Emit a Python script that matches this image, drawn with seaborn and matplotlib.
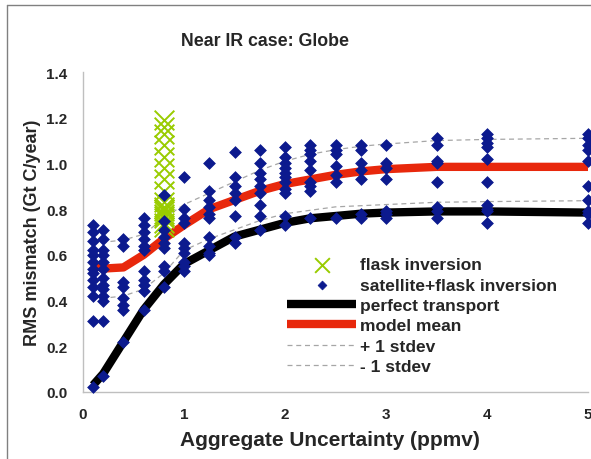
import matplotlib
matplotlib.use("Agg")
import matplotlib.pyplot as plt
from matplotlib.lines import Line2D
import seaborn as sns
import pandas as pd

# ---------------- data ----------------
uncertainty = [0.1, 0.2, 0.4, 0.6, 0.8, 1.0, 1.25, 1.5, 1.75, 2.0,
               2.25, 2.5, 2.75, 3.0, 3.5, 4.0, 5.0]

sat_flask = [
    [0.73, 0.70, 0.66, 0.62, 0.60, 0.57, 0.54, 0.52, 0.49, 0.46, 0.42, 0.31, 0.02],
    [0.71, 0.67, 0.62, 0.60, 0.57, 0.54, 0.50, 0.47, 0.45, 0.42, 0.40, 0.31, 0.07],
    [0.67, 0.64, 0.48, 0.46, 0.41, 0.38, 0.36, 0.22],
    [0.76, 0.73, 0.70, 0.67, 0.64, 0.62, 0.53, 0.49, 0.47, 0.44, 0.36],
    [0.86, 0.75, 0.71, 0.68, 0.65, 0.63, 0.55, 0.53, 0.46],
    [0.94, 0.80, 0.76, 0.74, 0.65, 0.63, 0.61, 0.57, 0.55, 0.53],
    [1.00, 0.88, 0.84, 0.81, 0.78, 0.76, 0.68, 0.64, 0.61, 0.60],
    [1.05, 0.94, 0.90, 0.87, 0.84, 0.77, 0.68, 0.65],
    [1.06, 1.00, 0.96, 0.93, 0.90, 0.87, 0.82, 0.77, 0.71],
    [1.07, 1.03, 1.00, 0.98, 0.96, 0.94, 0.92, 0.89, 0.87, 0.77, 0.73],
    [1.08, 1.06, 1.04, 1.01, 0.97, 0.92, 0.90, 0.88, 0.76],
    [1.08, 1.06, 1.04, 0.99, 0.95, 0.92, 0.76],
    [1.08, 1.06, 1.00, 0.97, 0.93, 0.78, 0.76],
    [1.08, 1.00, 0.98, 0.93, 0.79, 0.78, 0.76],
    [1.11, 1.08, 1.01, 1.00, 0.92, 0.81, 0.79, 0.76],
    [1.13, 1.11, 1.09, 1.07, 1.02, 0.92, 0.82, 0.80, 0.79, 0.74],
    [1.13, 1.11, 1.08, 1.06, 1.01, 0.90, 0.84, 0.79, 0.78, 0.74],
]

flask_x = 0.8
flask_values = [1.19, 1.16, 1.13, 1.08, 1.03, 0.98, 0.93, 0.88, 0.83,
                0.81, 0.80, 0.79, 0.78, 0.77, 0.76, 0.74, 0.72]

perfect_transport = [0.03, 0.08, 0.22, 0.36, 0.47, 0.56, 0.62, 0.68, 0.71, 0.74,
                     0.76, 0.77, 0.78, 0.785, 0.79, 0.79, 0.785]
model_mean = [0.56, 0.54, 0.545, 0.60, 0.67, 0.73, 0.80, 0.84, 0.88, 0.91,
              0.93, 0.95, 0.965, 0.975, 0.985, 0.985, 0.985]
plus_stdev = [0.65, 0.655, 0.665, 0.69, 0.76, 0.82, 0.87, 0.92, 0.97, 1.01,
              1.04, 1.06, 1.075, 1.085, 1.10, 1.105, 1.11]
minus_stdev = [0.41, 0.41, 0.42, 0.45, 0.52, 0.62, 0.67, 0.71, 0.75, 0.78,
               0.795, 0.81, 0.815, 0.82, 0.83, 0.833, 0.837]

x_ticks = [0, 1, 2, 3, 4, 5]
y_ticks = [0.0, 0.2, 0.4, 0.6, 0.8, 1.0, 1.2, 1.4]

title = "Near IR case: Globe"
x_label = "Aggregate Uncertainty (ppmv)"
y_label = "RMS mismatch (Gt C/year)"

# ---------------- tables ----------------
sat_df = pd.DataFrame(
    [(u, v) for u, col in zip(uncertainty, sat_flask) for v in col],
    columns=["unc", "rms"])
flask_df = pd.DataFrame({"unc": [flask_x] * len(flask_values), "rms": flask_values})
lines_df = pd.DataFrame({"unc": uncertainty, "perfect": perfect_transport,
                         "mean": model_mean, "plus": plus_stdev, "minus": minus_stdev})

# ---------------- style ----------------
sns.set_style("white")
plt.rcParams["font.family"] = ["Liberation Sans", "DejaVu Sans"]
plt.rcParams["font.weight"] = "bold"

W, H = 591, 460
fig = plt.figure(figsize=(W / 100, H / 100), dpi=100)
ax = fig.add_axes([83 / W, (H - 393) / H, 505 / W, 320 / H])

navy = "#0C1A8E"
lime = "#99CC00"
red = "#E8280C"
grey = "#A6A6A6"

sns.lineplot(data=lines_df, x="unc", y="plus", ax=ax, color=grey, lw=0.9,
             linestyle=(0, (4, 3)), label="+ 1 stdev", zorder=1)
sns.lineplot(data=lines_df, x="unc", y="minus", ax=ax, color=grey, lw=0.9,
             linestyle=(0, (4, 3)), label="- 1 stdev", zorder=1)
sns.lineplot(data=lines_df, x="unc", y="perfect", ax=ax, color="black", lw=6,
             label="perfect transport", zorder=2, solid_capstyle="butt")
sns.lineplot(data=lines_df, x="unc", y="mean", ax=ax, color=red, lw=6,
             label="model mean", zorder=3, solid_capstyle="butt")
sns.scatterplot(data=flask_df, x="unc", y="rms", ax=ax, marker="x", s=200,
                color=lime, linewidth=1.4, label="flask inversion", zorder=4)
sns.scatterplot(data=sat_df, x="unc", y="rms", ax=ax, marker="D", s=36,
                color=navy, edgecolor=navy, linewidth=0.5,
                label="satellite+flask inversion", zorder=5, clip_on=False)

ax.set_xlim(0, 5)
ax.set_ylim(0, 1.4)
ax.set_xticks(x_ticks)
ax.set_yticks(y_ticks)
ax.set_xticklabels([str(t) for t in x_ticks])
ax.set_yticklabels([f"{t:.1f}" for t in y_ticks])
ax.tick_params(axis="both", which="both", direction="out", length=5, width=1,
               color="#BFBFBF", labelsize=11, pad=6)
for lab in ax.get_xticklabels() + ax.get_yticklabels():
    lab.set_fontweight("bold")

for s in ["top", "right"]:
    ax.spines[s].set_visible(False)
for s in ["left", "bottom"]:
    ax.spines[s].set_color("#BFBFBF")
    ax.spines[s].set_linewidth(1)

ax.set_xlabel(x_label, fontsize=15, fontweight="bold", labelpad=6)
ax.xaxis.label.set_x((330 - 83) / 505)
ax.set_ylabel(y_label, fontsize=13, fontweight="bold", labelpad=4)
fig.text(265 / W, (H - 41) / H, title, fontsize=12.8, fontweight="bold",
         ha="center", va="center")

handles, labels = ax.get_legend_handles_labels()
order = ["flask inversion", "satellite+flask inversion", "perfect transport",
         "model mean", "+ 1 stdev", "- 1 stdev"]
hmap = dict(zip(labels, handles))
leg = ax.legend([hmap[k] for k in order], order, loc="upper left",
                bbox_to_anchor=(287 / W, (H - 258) / H), bbox_transform=fig.transFigure,
                frameon=False, handlelength=4.0, handletextpad=0.2,
                labelspacing=0.3, borderpad=0, borderaxespad=0, markerscale=0.75,
                prop={"weight": "bold", "size": 12.5})

# outer frame (left and top edges)
fig.add_artist(Line2D([7 / W, 7 / W], [0, (H - 6) / H], transform=fig.transFigure,
                      color="#808080", lw=1))
fig.add_artist(Line2D([7 / W, 1], [(H - 6) / H, (H - 6) / H], transform=fig.transFigure,
                      color="#808080", lw=1))

fig.savefig("out.png", dpi=100)
